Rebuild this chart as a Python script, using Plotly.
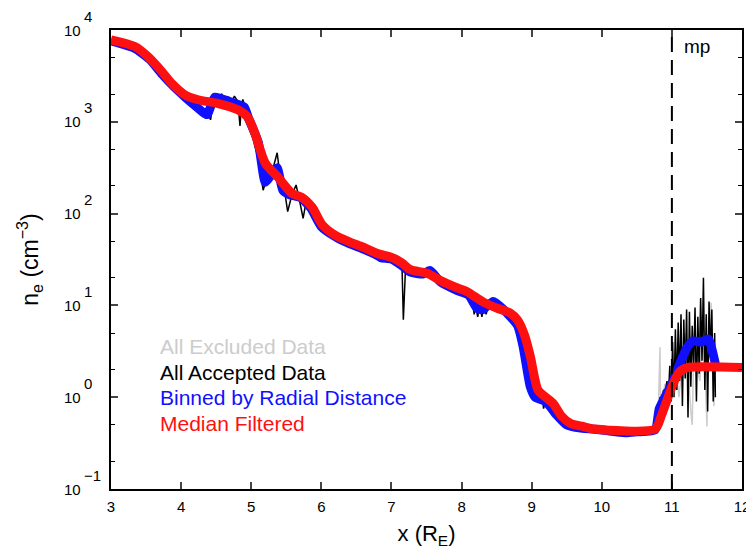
import plotly.graph_objects as go

# median filtered (red)
median_x = [3.0, 3.34, 3.53, 3.73, 3.87, 4.06, 4.24, 4.53, 4.81, 4.95, 5.05, 5.2, 5.38, 5.58, 5.72, 5.87,
            6.01, 6.2, 6.41, 6.6, 6.79, 7.02, 7.15, 7.27, 7.51, 7.7, 7.94, 8.08, 8.3, 8.51, 8.69, 8.8,
            8.9, 8.98, 9.09, 9.2, 9.31, 9.42, 9.55, 9.73, 9.9, 10.76, 10.85, 11.0, 11.1, 11.22, 12.0]
median_y = [7800, 6600, 5100, 3500, 2600, 1950, 1740, 1580, 1350, 1120, 760, 355, 250, 166, 151, 117,
            76, 58, 49, 43, 37, 33, 29, 24.5, 22.4, 18.6, 15.5, 14.1, 11, 9.3, 8.3, 6.9,
            4.7, 2.8, 1.2, 1.0, 0.85, 0.63, 0.52, 0.48, 0.45, 0.45, 0.63, 1.29, 1.86, 2.1, 2.1]

# binned by radial distance (blue)
binned_x = [3.0, 3.34, 3.55, 3.73, 3.9, 4.06, 4.2, 4.37, 4.48, 4.7, 4.9, 4.96, 5.1, 5.2, 5.28, 5.37,
            5.45, 5.55, 5.7, 5.85, 6.0, 6.2, 6.4, 6.6, 6.8, 6.85, 7.0, 7.15, 7.27, 7.45, 7.55, 7.7,
            7.94, 8.1, 8.22, 8.3, 8.45, 8.6, 8.8, 8.88, 8.98, 9.05, 9.2, 9.35, 9.5, 9.7, 10.0, 10.2,
            10.35, 10.5, 10.76, 10.82, 10.9, 11.0, 11.1, 11.22, 11.3, 11.42, 11.52, 11.62]
binned_y = [7600, 6300, 4800, 3300, 2400, 1850, 1500, 1200, 1860, 1650, 1450, 1100, 600, 220, 260, 316,
            180, 160, 150, 115, 72, 56, 47, 41, 35, 33, 32, 27, 23, 22, 24, 18,
            14.5, 13, 9.3, 9.0, 11, 9, 6, 3.5, 1.3, 1.0, 0.9, 0.65, 0.5, 0.46, 0.44, 0.42,
            0.41, 0.42, 0.44, 0.75, 1.0, 1.4, 2.2, 3.5, 4.1, 4.0, 4.3, 2.3]

# all accepted data (black)
accepted_x = [3.0, 3.1, 3.2, 3.3, 3.4, 3.5, 3.6, 3.7, 3.8, 3.9, 4.0, 4.1, 4.2, 4.3, 4.35, 4.4,
              4.42, 4.47, 4.52, 4.58, 4.62, 4.68, 4.72, 4.76, 4.8, 4.82, 4.84, 4.86, 4.88, 4.92,
              4.96, 5.0, 5.05, 5.1, 5.17, 5.22, 5.28, 5.32, 5.37, 5.4, 5.45, 5.52, 5.58, 5.64,
              5.68, 5.74, 5.78, 5.85, 5.9, 6.0, 6.2, 6.4, 6.6, 6.8, 6.85, 6.9, 7.0, 7.1, 7.15,
              7.17, 7.2, 7.3, 7.4, 7.5, 7.6, 7.7, 7.8, 7.9, 8.0, 8.1, 8.15, 8.18, 8.2, 8.23,
              8.26, 8.29, 8.32, 8.35, 8.4, 8.5, 8.6, 8.7, 8.8, 8.85, 8.9, 8.95, 9.0, 9.05, 9.1,
              9.15, 9.17, 9.2, 9.25, 9.3, 9.4, 9.5, 9.6, 9.8, 10.0, 10.2, 10.4, 10.6, 10.78,
              10.8, 10.83, 10.86, 10.88, 10.9, 10.93, 10.95, 10.97, 10.99, 11.01, 11.03, 11.05,
              11.07, 11.09, 11.11, 11.13, 11.15, 11.17, 11.19, 11.21, 11.23, 11.25, 11.27, 11.29,
              11.31, 11.33, 11.35, 11.37, 11.39, 11.41, 11.43, 11.45, 11.47, 11.49, 11.51, 11.53,
              11.55, 11.57, 11.59, 11.61, 11.62]
accepted_y = [7700, 7300, 6900, 6500, 5900, 5100, 4400, 3600, 3000, 2500, 2100, 1750, 1500, 1250, 1100, 1150,
              1050, 1900, 1800, 2000, 1750, 1850, 1650, 1900, 1700, 1350, 900, 1500, 1750, 1400,
              1000, 800, 550, 400, 180, 240, 280, 330, 460, 300, 240, 105, 160, 205,
              150, 89, 130, 120, 100, 75, 57, 48, 42, 35, 32, 34, 32, 30, 28,
              7, 25, 23, 22, 23, 20, 18, 16.5, 15, 14, 13.5, 12, 8, 10, 7.5,
              10, 7.5, 10, 8, 11, 10.5, 9, 8, 6, 4.5, 2.5, 1.6, 1.2, 1.0, 0.95,
              1.0, 0.75, 0.95, 0.85, 0.75, 0.6, 0.5, 0.47, 0.45, 0.44, 0.42, 0.41, 0.43, 0.44,
              0.5, 1.0, 0.9, 1.2, 1.1, 1.5, 1.0, 2.2, 0.9, 4.0, 1.0, 5.5,
              1.2, 6.5, 1.5, 8.0, 0.8, 7.0, 1.6, 9.0, 0.6, 8.5, 1.3, 6.0,
              2.0, 9.5, 0.9, 7.5, 1.8, 12, 2.5, 20, 1.2, 8.0, 0.7, 11,
              3.0, 9.0, 0.9, 5.0, 1.0]

# all excluded data (grey)
excluded_x = [10.8, 10.83, 10.84, 10.9, 10.95, 11.05, 11.1, 11.2, 11.27, 11.29, 11.31, 11.4, 11.45,
              11.48, 11.5, 11.52, 11.56, 11.58, 11.6, 11.62]
excluded_y = [0.45, 3.5, 0.7, 1.4, 0.8, 3.0, 1.0, 5.0, 0.7, 0.5, 3.0, 1.5, 6.0,
              0.9, 0.48, 4.0, 10.7, 2.0, 0.8, 3.0]

y_decades = [-1, 0, 1, 2, 3, 4]
y_tick_exp = ['\u22121', '0', '1', '2', '3', '4']
x_tick_vals = [3, 4, 5, 6, 7, 8, 9, 10, 11, 12]

legend_labels = ['All Excluded Data', 'All Accepted Data', 'Binned by Radial Distance', 'Median Filtered']
legend_colors = ['#cccccc', 'black', '#1010ff', '#ff1010']

font = 'Liberation Sans, Arial, sans-serif'

fig = go.Figure()
fig.add_trace(go.Scatter(x=excluded_x, y=excluded_y, mode='lines',
                         line=dict(color='#cccccc', width=1.5)))
fig.add_trace(go.Scatter(x=accepted_x, y=accepted_y, mode='lines',
                         line=dict(color='black', width=1.5)))
fig.add_trace(go.Scatter(x=binned_x, y=binned_y, mode='lines',
                         line=dict(color='#1010ff', width=9, shape='spline', smoothing=0.5)))
fig.add_trace(go.Scatter(x=median_x, y=median_y, mode='lines',
                         line=dict(color='#ff1010', width=9, shape='spline', smoothing=0.7)))

# magnetopause
fig.add_shape(type='line', x0=11, x1=11, y0=0, y1=1, yref='paper',
              line=dict(color='black', width=2, dash='15px,8px'))
fig.add_annotation(x=11.15, y=0.965, yref='paper', text='mp', showarrow=False,
                   xanchor='left', yanchor='middle', font=dict(size=19, color='black', family=font))

# legend as coloured text
for i, (label, color) in enumerate(zip(legend_labels, legend_colors)):
    fig.add_annotation(x=0.074, y=0.310 - i * 0.0555, xref='paper', yref='paper', text=label,
                       showarrow=False, xanchor='left', yanchor='middle',
                       font=dict(size=21, color=color, family=font))

# y tick labels: 10 with a full-size raised exponent
for d, e in zip(y_decades, y_tick_exp):
    fig.add_annotation(x=0, xref='paper', y=d, yref='y', text='10', showarrow=False,
                       xanchor='right', yanchor='middle', xshift=-28,
                       font=dict(size=15, color='black', family=font))
    fig.add_annotation(x=0, xref='paper', y=d, yref='y', text=e, showarrow=False,
                       xanchor='left', yanchor='middle', xshift=-29, yshift=14,
                       font=dict(size=15, color='black', family=font))

fig.update_layout(
    width=754, height=560,
    margin=dict(l=103, r=20, t=22, b=79, autoexpand=False),
    plot_bgcolor='white', paper_bgcolor='white',
    showlegend=False,
    font=dict(family=font, color='black'),
)
fig.update_xaxes(range=[3, 12], tickvals=x_tick_vals, ticks='inside', ticklen=7, tickwidth=1.5,
                 showline=True, linecolor='black', linewidth=2, mirror='allticks', showgrid=False,
                 zeroline=False, tickfont=dict(size=15), ticklabelstandoff=3, automargin=False,
                 title=dict(text='x (R<sub>E</sub>)', font=dict(size=22), standoff=12))
fig.update_yaxes(type='log', range=[-1, 4], tickvals=[10 ** d for d in y_decades],
                 showticklabels=False,
                 ticks='inside', ticklen=7, tickwidth=1.5,
                 minor=dict(ticks='inside', ticklen=4, tickwidth=1, tickcolor='black', showgrid=False),
                 showline=True, linecolor='black', linewidth=2, mirror='allticks', showgrid=False,
                 zeroline=False, automargin=False,
                 title=dict(text='n<sub>e</sub> (cm<sup>\u22123</sup>)', font=dict(size=23), standoff=64))

fig.write_html('out.html')
